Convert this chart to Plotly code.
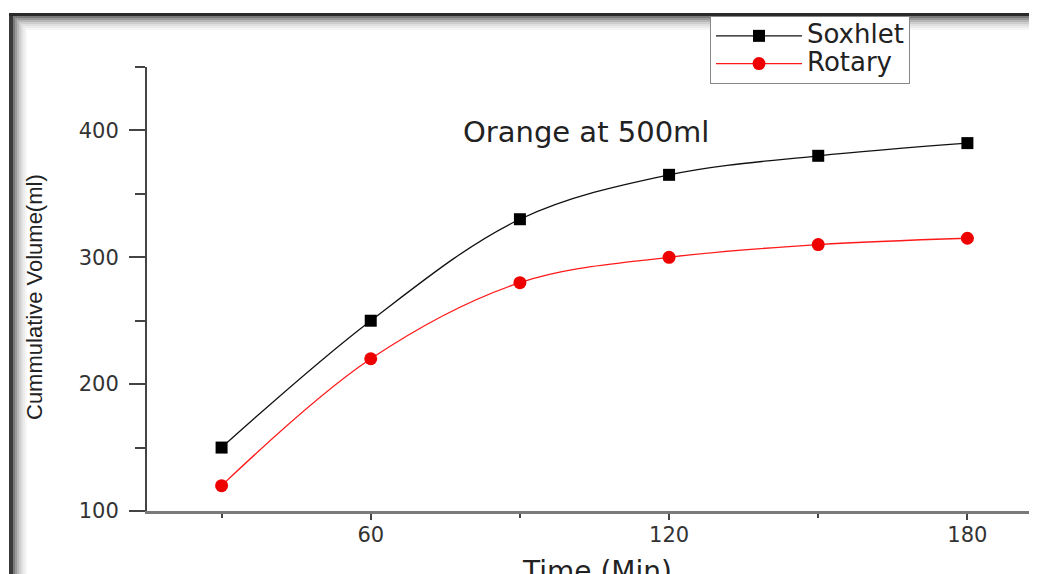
import plotly.graph_objects as go

# ---- data ----
time_min = [30, 60, 90, 120, 150, 180]
soxhlet = [150, 250, 330, 365, 380, 390]
rotary = [120, 220, 280, 300, 310, 315]
series_names = ["Soxhlet", "Rotary"]
x_title = "Time (Min)"
y_title = "Cummulative Volume(ml)"
note = "Orange at 500ml"

# page body has an 8px margin: figure is offset by 8px in the screenshot
OFF = 8
SW, SH = 1037, 574                 # screenshot size
W, H = SW - OFF, SH - OFF          # figure size
# plot area in screenshot pixels
PL, PR, PT, PB = 147, 1037, 67, 511
L, R, T, B = PL - OFF, SW - PR, PT - OFF, SH - PB
PW, PH = PR - PL, PB - PT

def px(x):
    return (x - PL) / PW

def py(y):
    return (PB - y) / PH

fig = go.Figure()
fig.add_trace(go.Scatter(
    x=time_min, y=soxhlet, name="<span style='font-size:26px'>%s</span>" % series_names[0],
    mode="lines+markers",
    line=dict(color="#111111", width=1.3, shape="spline", smoothing=1.0),
    marker=dict(symbol="square", size=12, color="#000000"),
))
fig.add_trace(go.Scatter(
    x=time_min, y=rotary, name="<span style='font-size:26px'>%s</span>" % series_names[1],
    mode="lines+markers",
    line=dict(color="#ff1a1a", width=1.3, shape="spline", smoothing=1.0),
    marker=dict(symbol="circle", size=13, color="#ee0000"),
))

fig.update_xaxes(
    range=[15, 194], tick0=0, dtick=60, ticks="outside", ticklen=6, tickwidth=1.5,
    tickcolor="#444444", showline=True, linecolor="#7a7a7a", linewidth=2.5,
    showgrid=False, zeroline=False, ticklabelstandoff=-3,
    tickfont=dict(family="DejaVu Sans", size=21, color="#333333"),
    minor=dict(dtick=30, tick0=0, ticks="outside", ticklen=4, tickcolor="#444444", tickwidth=1.5),
)
fig.update_yaxes(
    range=[100, 450], tick0=0, dtick=100, ticks="outside", ticklen=16, tickwidth=1.5,
    tickcolor="#444444", showline=True, linecolor="#444444", linewidth=2,
    showgrid=False, zeroline=False, ticklabelstandoff=6,
    tickfont=dict(family="DejaVu Sans", size=21, color="#333333"),
    minor=dict(dtick=50, tick0=0, ticks="outside", ticklen=10, tickcolor="#444444", tickwidth=1.5),
)

shapes = []
# frame: dark edges + inner shadow
shapes.append(dict(type="rect", xref="paper", yref="paper", x0=px(9), x1=px(13),
                   y0=py(SH + 5), y1=py(13), fillcolor="#3a3a3a", line=dict(width=0), layer="above"))
shapes.append(dict(type="rect", xref="paper", yref="paper", x0=px(9), x1=px(SW + 5),
                   y0=py(16), y1=py(13), fillcolor="#2a2a2a", line=dict(width=0), layer="above"))
shade = ["#7a7a7a", "#9a9a9a", "#b6b6b6", "#cdcdcd", "#dfdfdf", "#ececec", "#f6f6f6"]
for i, c in enumerate(shade):
    a = 13 + 2 * i
    shapes.append(dict(type="rect", xref="paper", yref="paper", x0=px(a), x1=px(a + 2),
                       y0=py(SH + 5), y1=py(16 + 2 * i), fillcolor=c, line=dict(width=0), layer="below"))
    shapes.append(dict(type="rect", xref="paper", yref="paper", x0=px(a), x1=px(SW + 5),
                       y0=py(16 + 2 * i + 2), y1=py(16 + 2 * i), fillcolor=c, line=dict(width=0), layer="below"))

annotations = [
    dict(text=note, xref="paper", yref="paper", x=px(586), y=py(132), showarrow=False,
         font=dict(family="DejaVu Sans", size=29, color="#222222"), xanchor="center", yanchor="middle"),
    dict(text=x_title, xref="paper", yref="paper", x=px(597), y=py(553), showarrow=False,
         font=dict(family="DejaVu Sans", size=28, color="#222222"), xanchor="center", yanchor="top"),
    dict(text=y_title, xref="paper", yref="paper", x=px(34), y=py(297), showarrow=False, textangle=-90,
         font=dict(family="Liberation Sans", size=22, color="#222222"), xanchor="center", yanchor="middle"),
]

fig.update_layout(
    width=W, height=H, margin=dict(l=L, r=R, t=T, b=B),
    paper_bgcolor="white", plot_bgcolor="white",
    shapes=shapes, annotations=annotations,
    legend=dict(x=px(710), y=py(16), xanchor="left", yanchor="top",
                bgcolor="white", bordercolor="#888888", borderwidth=1,
                font=dict(family="DejaVu Sans", size=19, color="#222222"),
                tracegroupgap=0, itemwidth=86),
    showlegend=True,
)

fig.write_html("out.html")
